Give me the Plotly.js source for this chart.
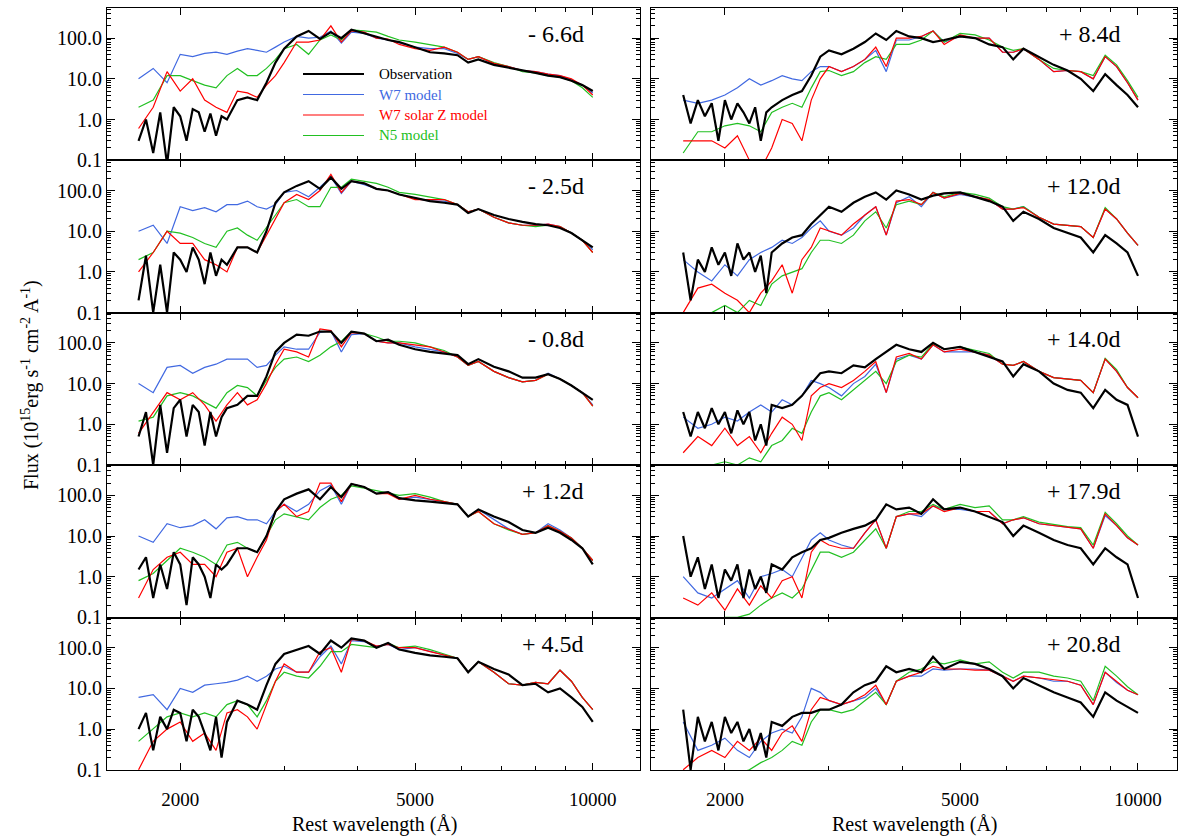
<!DOCTYPE html>
<html>
<head>
<meta charset="utf-8">
<script src="https://cdn.plot.ly/plotly-3.0.1.min.js"></script>
<style>body{margin:0;background:#fff}#chart{width:1182px;height:836px}</style>
</head>
<body>
<div id="chart"></div>
<script>
// wavelength grids (Angstrom)
const waveObs = [1700,1750,1800,1850,1900,1950,2000,2050,2100,2150,2200,2250,2300,2350,2400,
  2500,2600,2700,2800,2900,3000,3150,3300,3450,3600,3750,3900,4100,4300,4500,4700,5000,5300,5600,5900,6150,6400,6800,7200,7600,8000,8400,8800,9200,9600,10000];
const waveMod = [1700,1800,1900,2000,2100,2200,2300,2400,2500,2600,2700,2800,2900,3000,3150,3300,3450,3600,3750,3900,
  4100,4300,4500,4700,5000,5300,5600,5900,6150,6400,6800,7200,7600,8000,8400,8800,9200,9600,10000];

const epochs = ['- 6.6d','- 2.5d','- 0.8d','+ 1.2d','+ 4.5d','+ 8.4d','+ 12.0d','+ 14.0d','+ 17.9d','+ 20.8d'];

// observed flux, one row per epoch
const obsFlux = [
  [0.3,1.0,0.15,1.5,0.08,2.0,1.2,0.3,1.8,1.5,0.5,1.4,0.4,1.2,1.0, 3,3.5,3,8,25,55,110,150,95,140,100,160,130,110,90,80,60,45,42,38,25,30,22,19,16,14,12,11,9,7,5],
  [0.2,2.5,0.1,1.5,0.1,3,2,1,4,2,0.5,3,0.8,2,1.5, 4,4,3,10,50,90,130,170,110,210,110,170,150,110,100,80,65,55,50,45,28,35,25,20,17,15,14,12,9,6,4],
  [0.5,2,0.1,3,0.2,2.5,4,0.5,3,2,0.3,2,0.5,1.5,2.5, 3,5,5,15,60,100,160,150,190,190,100,190,170,110,120,90,70,60,55,50,30,40,26,20,14,14,17,13,9,6,4],
  [1.5,3,0.3,2,0.5,4,2,0.2,3,2,1,0.3,2,1.5,2, 5,5,4,10,40,80,110,140,80,160,90,190,160,110,120,85,75,70,65,60,30,45,30,22,14,12,16,12,8,5,2],
  [1,2.5,0.3,2,1,3,2.5,0.5,3,2,0.8,0.3,2,0.2,1.5, 5,4,3,12,40,70,90,110,70,150,100,170,150,100,130,90,75,65,60,55,25,45,30,22,12,13,8,10,6,3.5,1.5],
  [4,0.8,3,1.2,2.5,0.3,3,1,2.5,1.5,0.8,2,0.3,1.5,2, 3,4,5,12,35,50,40,55,80,130,90,150,110,100,80,90,110,100,70,60,30,55,35,22,16,10,5,13,7,4,2],
  [3,0.2,2,1,4,1.5,3,0.8,5,2,3,1,2.5,0.3,3, 5,7,8,15,25,40,30,50,70,90,60,100,80,60,75,85,90,70,55,40,18,30,20,12,9,7,3,8,5,3,0.8],
  [2,0.5,2,0.8,2.5,1,2,0.6,2.2,1,2,0.4,1,0.3,3, 2.5,3,5,10,18,20,18,28,25,40,60,90,70,60,100,70,80,60,45,35,15,30,20,10,7,6,2.5,7,4,3,0.5],
  [10,1,3,0.5,2,0.3,1.5,0.8,2,0.3,1.5,0.5,1,0.4,2, 1.5,3,4,5,8,9,12,15,18,25,60,45,50,35,80,45,50,40,30,22,10,18,12,8,6,5,2,5,3,2,0.3],
  [3,0.1,2,0.5,1.5,0.3,2,0.8,1.5,0.5,1,0.3,0.8,0.2,1.5, 1.2,2,2.5,2.5,3,3,4,8,12,15,35,25,30,25,60,30,45,40,30,20,10,18,12,8,6,4.5,2,8,5,3.5,2.5]
];

// W7 model
const w7Flux = [
  [10,18,8,40,35,42,45,40,48,55,50,45,60,80,110,100,105,150,75,140,130,100,90,75,60,55,55,42,30,35,24,20,16,15,13,12,9.5,7,4.5],
  [10,14,5,40,32,38,30,45,45,55,40,35,45,90,100,70,120,220,85,170,140,110,100,80,65,55,55,45,30,35,22,16,14,14,15,13,9,6,3.5],
  [10,6,25,28,18,25,30,40,40,40,25,28,50,80,70,70,180,200,60,160,170,110,100,100,80,70,60,45,28,35,20,14,11,12,18,13,9,6,3],
  [10,7,20,16,18,25,15,28,30,25,25,20,40,60,40,60,130,180,60,190,160,110,120,80,90,80,70,60,30,45,25,15,11,12,20,14,9,5,2.5],
  [6,7,3,10,8,12,13,14,16,20,15,20,30,35,25,25,60,110,40,150,140,110,120,90,100,80,65,55,25,45,25,13,12,14,13,28,15,6,3],
  [3,2.5,3,4,6,10,7,9,12,10,9,15,20,20,15,20,30,50,15,90,90,110,150,80,110,100,100,45,45,55,30,15,16,15,10,35,20,8,3],
  [2,1,0.6,1.5,0.8,2,3,4,6,5,7,12,18,10,8,12,25,40,8,50,70,40,90,65,80,70,60,35,35,40,22,15,14,13,7,35,20,9,4.5],
  [1.5,0.8,1,1.5,1.2,2,3,2,4,3,5,12,10,8,5,10,15,30,6,40,50,40,90,60,60,60,50,30,28,35,20,14,13,12,6,40,20,8,4.5],
  [1,0.4,0.3,0.5,0.8,0.3,1,1.2,1.5,1,3,8,12,8,6,5,12,25,5,30,35,30,55,45,45,40,40,20,25,28,20,18,17,15,5,32,18,9,6],
  [1.5,0.3,0.4,0.6,0.3,0.2,0.5,0.8,1,0.8,2,10,8,5,4,5,6,10,4,15,20,20,30,28,30,30,28,20,15,20,18,15,15,12,4,25,14,9,7]
];

// W7 solar metallicity model
const w7zFlux = [
  [0.6,2,15,5,10,3,2,1.5,5,4.5,3.5,7,12,25,80,80,90,200,80,150,140,100,95,70,55,50,60,45,30,35,24,20,16,15,13,12,10,7,4],
  [1,3,10,5,5,2,1.5,1,4,4,3,8,20,50,80,60,100,250,90,170,150,110,100,80,60,60,60,45,30,35,22,16,14,14,15,13,9,6,3],
  [0.6,2,6,4,6,3,1.2,3,6,3,4,10,30,70,60,45,220,200,80,180,170,110,100,100,90,80,60,45,28,35,20,14,11,12,17,13,9,6,2.8],
  [0.3,1.5,3,4,2,2,1,4,5,1,3,8,40,60,30,40,200,200,70,190,160,110,110,80,100,80,70,60,30,40,20,15,11,12,18,13,9,5,2.5],
  [0.1,0.5,1,1.5,0.5,0.8,0.3,2.5,3,2,1,4,15,40,25,25,80,100,25,160,150,110,120,100,100,80,65,55,25,45,25,13,12,14,13,28,15,6,3],
  [0.3,0.3,0.3,0.2,0.4,0.1,0.06,0.2,1,0.8,0.3,3,10,20,15,20,30,60,20,100,100,110,150,70,120,100,100,45,45,55,30,15,16,15,10,35,20,8,3],
  [0.1,0.4,0.5,0.3,0.2,0.1,0.3,0.6,1.5,0.3,2,4,12,10,8,15,25,40,8,55,60,45,90,65,85,70,60,35,35,38,22,15,14,13,7,35,20,9,4.5],
  [0.2,0.5,0.3,0.8,0.3,0.5,0.2,0.6,1.5,1,0.4,5,8,10,8,12,20,35,6,45,55,40,90,60,70,60,50,30,28,35,20,14,13,12,6,40,20,8,4.5],
  [0.3,0.2,0.4,0.15,0.5,0.2,0.6,0.3,0.8,1,0.3,4,8,6,5,5,12,25,5,30,35,35,55,40,50,40,40,20,25,28,20,18,17,15,5,35,18,9,6],
  [0.1,0.2,0.3,0.2,0.5,0.3,0.6,0.3,0.8,1.2,0.5,3,6,5,4,5,7,12,4,15,20,25,35,30,30,28,28,20,15,20,18,16,15,12,4,25,15,9,7]
];

// N5 model
const n5Flux = [
  [2,3,12,12,9,7,6,12,18,12,12,18,30,55,70,40,90,120,90,160,150,140,110,90,80,70,60,45,30,35,25,20,15,14,12,11,9,6,3.5],
  [2,3,10,9,7,5,4,10,12,8,6,12,25,50,60,40,40,120,120,190,170,150,120,90,80,70,60,45,30,35,22,16,14,13,14,13,9,6,3],
  [1.2,1.5,5,6,5,3.5,2.5,6,9,8,5,12,25,40,45,35,50,80,110,190,170,140,110,110,100,80,65,45,28,35,20,14,11,12,17,13,9,6,2.8],
  [0.8,1.2,2.5,5,4,3,2,6,7,5,4,10,25,35,30,25,50,80,100,170,150,130,110,100,110,90,70,60,30,40,20,14,11,12,18,13,9,5,2.5],
  [0.5,1,2,2.5,2,2.5,2,4,5,4,2,5,15,25,20,18,35,80,80,120,110,100,130,100,110,90,70,55,25,45,25,13,12,14,13,28,15,6,3],
  [0.15,0.5,0.5,0.7,0.8,0.7,0.5,1.5,2,2.5,2,6,15,16,12,15,25,35,30,70,70,90,150,80,130,120,90,60,50,55,30,18,16,15,12,38,22,9,3.5],
  [0.05,0.08,0.1,0.15,0.1,0.2,0.15,0.5,0.8,1,1.2,3,6,6,5,8,18,30,12,45,55,45,90,70,90,80,65,40,35,40,22,15,14,13,7,38,20,9,4.5],
  [0.06,0.08,0.1,0.12,0.1,0.15,0.12,0.3,0.4,0.8,0.6,2,5,6,4,7,12,20,10,35,50,45,95,70,80,65,55,30,28,35,20,14,13,12,6,42,22,8,4.5],
  [0.05,0.06,0.08,0.1,0.1,0.12,0.2,0.3,0.4,0.3,0.5,1.5,4,4,3,4,8,15,5,30,40,40,60,45,60,50,55,25,25,30,22,19,17,16,6,38,20,10,6],
  [0.05,0.05,0.06,0.08,0.08,0.1,0.15,0.2,0.3,0.5,0.4,1.5,3,3,2.5,3,5,8,4,15,25,30,45,40,50,40,45,25,18,25,25,20,18,15,5,35,20,11,7]
];

const W = 1182, H = 836;
const px = x => x / W;
const py = y => 1 - y / H;
const serif = 'Liberation Serif';

const colEdges = [[107, 640], [651, 1177]];
const xRanges = [[3.177, 4.080], [3.176, 4.066]];
const panelTop = 8, panelH = 152.4;

const xMinor = [3000,4000,6000,7000,8000,9000];
const yMinor = [];
[0.1, 1, 10, 100].forEach(d => { for (let k = 2; k <= 9; k++) if (d * k < 700) yMinor.push(d * k); });

const traces = [];
const layout = {
  width: W, height: H,
  margin: {l: 0, r: 0, t: 0, b: 0},
  paper_bgcolor: '#fff', plot_bgcolor: '#fff',
  showlegend: false,
  font: {family: serif, color: '#000'},
  annotations: [], shapes: []
};

epochs.forEach((ep, i) => {
  const col = i < 5 ? 0 : 1;
  const row = i % 5;
  const n = i + 1;
  const xa = n === 1 ? 'x' : 'x' + n;
  const ya = n === 1 ? 'y' : 'y' + n;
  const top = panelTop + row * panelH;
  const bottom = top + panelH;

  layout['xaxis' + (n === 1 ? '' : n)] = {
    type: 'log', range: xRanges[col],
    domain: [px(colEdges[col][0]), px(colEdges[col][1])],
    anchor: ya,
    tickmode: 'array', tickvals: [2000, 5000, 10000],
    ticktext: ['2000', '5000', '10000'],
    showticklabels: row === 4,
    ticks: 'inside', ticklen: 7, tickcolor: '#000', ticklabelstandoff: 12,
    minor: {tickmode: 'array', tickvals: xMinor, ticks: 'inside', ticklen: 4, tickcolor: '#000'},
    mirror: 'allticks', showline: true, linecolor: '#000', linewidth: 1,
    showgrid: false, zeroline: false,
    tickfont: {family: serif, size: 19, color: '#000'}
  };
  layout['yaxis' + (n === 1 ? '' : n)] = {
    type: 'log', range: [-1.005, 2.74],
    domain: [py(bottom), py(top)],
    anchor: xa,
    tickmode: 'array', tickvals: [0.1, 1, 10, 100],
    ticktext: ['0.1', '1.0', '10.0', '100.0'],
    showticklabels: col === 0,
    ticks: 'inside', ticklen: 8, tickcolor: '#000',
    minor: {tickmode: 'array', tickvals: yMinor, ticks: 'inside', ticklen: 4, tickcolor: '#000'},
    mirror: 'allticks', showline: true, linecolor: '#000', linewidth: 1,
    showgrid: false, zeroline: false,
    tickfont: {family: serif, size: 20, color: '#000'}
  };

  const series = [
    {x: waveMod, y: w7Flux[i], color: '#4169e1', w: 1.2},
    {x: waveMod, y: n5Flux[i], color: '#22c022', w: 1.2},
    {x: waveMod, y: w7zFlux[i], color: '#ff0000', w: 1.2},
    {x: waveObs, y: obsFlux[i], color: '#000000', w: 2.2}
  ];
  series.forEach(s => traces.push({
    type: 'scatter', mode: 'lines', x: s.x, y: s.y, xaxis: xa, yaxis: ya,
    line: {color: s.color, width: s.w}, hoverinfo: 'skip'
  }));

  layout.annotations.push({
    xref: 'paper', yref: 'paper', x: px(colEdges[col][1] - 54), y: py(top + 26),
    xanchor: 'right', yanchor: 'middle', showarrow: false, text: ep,
    font: {family: serif, size: 24, color: '#000'}
  });
});

// legend in first panel
const legendItems = [
  ['Observation', '#000000', 2.2],
  ['W7 model', '#4169e1', 1.2],
  ['W7 solar Z model', '#ff0000', 1.2],
  ['N5 model', '#22c022', 1.2]
];
legendItems.forEach((it, k) => {
  const y = 74 + k * 20.5;
  layout.shapes.push({type: 'line', xref: 'paper', yref: 'paper',
    x0: px(303), x1: px(364), y0: py(y), y1: py(y), line: {color: it[1], width: it[2]}});
  layout.annotations.push({xref: 'paper', yref: 'paper', x: px(377), y: py(y),
    xanchor: 'left', yanchor: 'middle', showarrow: false, text: it[0],
    font: {family: serif, size: 15, color: it[1]}});
});

layout.annotations.push({
  xref: 'paper', yref: 'paper', x: px(30), y: py(385), textangle: -90,
  showarrow: false, xanchor: 'center', yanchor: 'middle',
  text: 'Flux (10<sup>15</sup>erg s<sup>-1</sup> cm<sup>-2</sup> A<sup>-1</sup>)',
  font: {family: serif, size: 20, color: '#000'}
});
[375, 915].forEach(x => layout.annotations.push({
  xref: 'paper', yref: 'paper', x: px(x), y: py(824), showarrow: false,
  xanchor: 'center', yanchor: 'middle', text: 'Rest wavelength (Å)',
  font: {family: serif, size: 20, color: '#000'}
}));

Plotly.newPlot('chart', traces, layout, {displayModeBar: false, staticPlot: true});
</script>
</body>
</html>
